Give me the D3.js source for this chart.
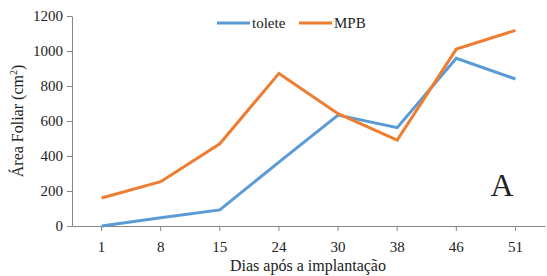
<!DOCTYPE html>
<html><head><meta charset="utf-8">
<script src="https://cdn.jsdelivr.net/npm/d3@7"></script>
<style>body{margin:0;background:#fff}svg{display:block}</style>
</head><body>
<svg id="c" width="547" height="276"></svg>
<script>
const categories = ["1","8","15","24","30","38","46","51"];
const tolete = [0, 47, 92, 365, 634, 562, 958, 840];
const mpb = [160, 253, 470, 872, 642, 491, 1011, 1118];
const yTicks = [0, 200, 400, 600, 800, 1000, 1200];
const seriesNames = ["tolete", "MPB"];
const colors = ["#5B9BD5", "#ED7D31"];
const FONT = "Liberation Serif, Times New Roman, serif";

const svg = d3.select("#c");
const L = 72, R = 545, T = 16, B = 226;
const x = d3.scaleBand().domain(categories).range([L, R]);
const y = d3.scaleLinear().domain([0, 1200]).range([B, T]);

svg.append("g").attr("transform", `translate(${L},0)`)
  .call(d3.axisLeft(y).tickValues(yTicks).tickFormat(d3.format("d")).tickSize(5).tickPadding(4).tickSizeOuter(0));
svg.append("g").attr("transform", `translate(0,${B})`)
  .call(d3.axisBottom(x).tickSize(5).tickPadding(10).tickSizeOuter(0));
svg.selectAll("g").attr("font-family", FONT).attr("font-size", 15);
svg.selectAll(".tick text").attr("fill", "#222");
svg.selectAll(".domain, .tick line").attr("stroke", "#868686");

const line = d3.line().x((d, i) => x(categories[i]) + x.bandwidth() / 2).y(d => y(d));
[tolete, mpb].forEach((s, k) => {
  svg.append("path").datum(s).attr("d", line).attr("fill", "none")
    .attr("stroke", colors[k]).attr("stroke-width", 3).attr("stroke-linejoin", "miter");
});

// legend
const lg = [[217, 252], [299, 334]];
seriesNames.forEach((n, k) => {
  svg.append("line").attr("x1", lg[k][0]).attr("x2", lg[k][0] + 33).attr("y1", 23).attr("y2", 23)
    .attr("stroke", colors[k]).attr("stroke-width", 3);
  svg.append("text").attr("x", lg[k][1]).attr("y", 28).attr("font-family", FONT).attr("font-size", 15).attr("fill", "#222").text(n);
});

svg.append("text").attr("transform", "translate(23,121) rotate(-90)").attr("text-anchor", "middle")
  .attr("font-family", FONT).attr("font-size", 16).attr("fill", "#222")
  .html('Área Foliar (cm<tspan dy="-6" font-size="10">2</tspan><tspan dy="6">)</tspan>');
svg.append("text").attr("x", 308).attr("y", 271).attr("text-anchor", "middle")
  .attr("font-family", FONT).attr("font-size", 16).attr("fill", "#222")
  .text("Dias após a implantação");
svg.append("text").attr("x", 502).attr("y", 196).attr("text-anchor", "middle")
  .attr("font-family", FONT).attr("font-size", 32).attr("fill", "#222").text("A");
</script>
</body></html>
